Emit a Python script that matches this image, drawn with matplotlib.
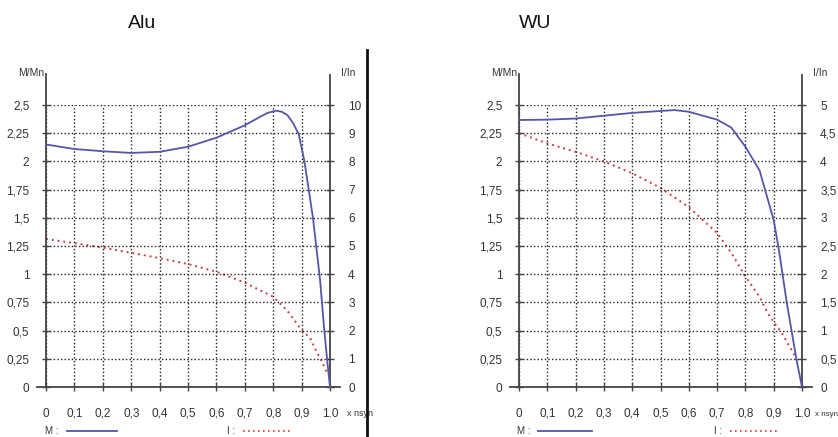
import matplotlib
matplotlib.use("Agg")
import matplotlib.pyplot as plt
from matplotlib.lines import Line2D

plt.rcParams['font.family'] = ['Liberation Sans', 'DejaVu Sans']

# ---------------- data ----------------
x_ticks = [0, 0.1, 0.2, 0.3, 0.4, 0.5, 0.6, 0.7, 0.8, 0.9, 1.0]
x_labels = ['0', '0,1', '0,2', '0,3', '0,4', '0,5', '0,6', '0,7', '0,8', '0,9', '1.0']
m_ticks = [0, 0.25, 0.5, 0.75, 1, 1.25, 1.5, 1.75, 2, 2.25, 2.5]
m_labels = ['0', '0,25', '0,5', '0,75', '1', '1,25', '1,5', '1,75', '2', '2,25', '2,5']

alu_i_ticks = [0, 1, 2, 3, 4, 5, 6, 7, 8, 9, 10]
alu_i_labels = ['0', '1', '2', '3', '4', '5', '6', '7', '8', '9', '10']
wu_i_ticks = [0, 0.5, 1, 1.5, 2, 2.5, 3, 3.5, 4, 4.5, 5]
wu_i_labels = ['0', '0,5', '1', '1,5', '2', '2,5', '3', '3,5', '4', '4,5', '5']

alu_m_x = [0, 0.1, 0.2, 0.3, 0.4, 0.5, 0.6, 0.7, 0.75, 0.78, 0.81, 0.83, 0.85, 0.87,
           0.89, 0.91, 0.94, 0.965, 0.98, 0.99, 1.0]
alu_m_y = [2.15, 2.11, 2.09, 2.075, 2.085, 2.13, 2.21, 2.32, 2.39, 2.43, 2.45, 2.44,
           2.41, 2.34, 2.24, 2.0, 1.5, 0.95, 0.5, 0.24, 0.0]
alu_i_x = [0, 0.1, 0.2, 0.3, 0.4, 0.5, 0.6, 0.7, 0.8, 0.85, 0.9, 0.93, 0.95, 0.97, 0.99]
alu_i_y = [5.25, 5.1, 4.94, 4.76, 4.57, 4.36, 4.09, 3.7, 3.2, 2.7, 2.02, 1.74, 1.3, 0.92, 0.5]

wu_m_x = [0, 0.1, 0.2, 0.3, 0.4, 0.5, 0.55, 0.6, 0.7, 0.75, 0.8, 0.85, 0.9, 0.92,
          0.946, 0.963, 0.98, 1.0]
wu_m_y = [2.367, 2.37, 2.38, 2.405, 2.43, 2.447, 2.455, 2.44, 2.37, 2.30, 2.13, 1.92,
          1.48, 1.19, 0.75, 0.5, 0.25, 0.0]
wu_i_x = [0, 0.1, 0.2, 0.3, 0.4, 0.5, 0.6, 0.7, 0.75, 0.8, 0.85, 0.88, 0.9, 0.93,
          0.95, 0.97, 0.98]
wu_i_y = [4.5, 4.32, 4.17, 4.0, 3.79, 3.53, 3.19, 2.73, 2.38, 1.96, 1.6, 1.3, 1.15,
          0.95, 0.77, 0.6, 0.48]

panels = [
    dict(title='Alu', x0=46, x1=330, tx=142, mx=alu_m_x, my=alu_m_y, ix=alu_i_x, iy=alu_i_y,
         iticks=alu_i_ticks, ilabels=alu_i_labels, imax=10,
         leg_m=(45, 67, 117), leg_i=(227, 243, 293), nsyn=(17, 6.5)),
    dict(title='WU', x0=519, x1=802, tx=535, mx=wu_m_x, my=wu_m_y, ix=wu_i_x, iy=wu_i_y,
         iticks=wu_i_ticks, ilabels=wu_i_labels, imax=5,
         leg_m=(517, 538, 592), leg_i=(714, 730, 780), nsyn=(13, 5.8)),
]

W, H = 838, 437
fig = plt.figure(figsize=(W / 100, H / 100), dpi=100)

M_COLOR = '#5656a8'
I_COLOR = '#d23c3c'
AX_COLOR = '#444444'
YTOP, YBOT = 105, 387

for p in panels:
    rect = [p['x0'] / W, 1 - YBOT / H, (p['x1'] - p['x0']) / W, (YBOT - YTOP) / H]
    ax = fig.add_axes(rect)
    ax.set_xlim(0, 1)
    ax.set_ylim(0, 2.5)
    for s in ax.spines.values():
        s.set_visible(False)
    ax.set_xticks(x_ticks)
    ax.set_xticklabels(x_labels)
    ax.set_yticks(m_ticks)
    ax.set_yticklabels(m_labels)
    ax.tick_params(axis='both', direction='inout', length=6, width=1, color=AX_COLOR,
                   labelsize=8.5, labelcolor='#333333')
    ax.tick_params(axis='y', pad=9)
    ax.tick_params(axis='x', pad=12)
    ax.grid(True, color='#222222', linestyle=(0, (1, 1.6)), linewidth=1.0)
    ax.set_axisbelow(True)

    # axis lines
    ax.plot([0, 0], [0, 1.11], transform=ax.transAxes, color=AX_COLOR, lw=1.3, clip_on=False, zorder=3)
    ax.plot([1, 1], [0, 1.105], transform=ax.transAxes, color=AX_COLOR, lw=1.3, clip_on=False, zorder=3)
    ax.plot([-0.032, 1.035], [0, 0], transform=ax.transAxes, color=AX_COLOR, lw=1.3, clip_on=False, zorder=3)

    ax2 = ax.twinx()
    ax2.set_ylim(0, p['imax'])
    for s in ax2.spines.values():
        s.set_visible(False)
    ax2.set_yticks(p['iticks'])
    ax2.set_yticklabels(p['ilabels'])
    ax2.tick_params(axis='y', direction='inout', length=6, width=1, color=AX_COLOR,
                    labelsize=8.5, labelcolor='#333333', pad=10)

    ax2.plot(p['ix'], p['iy'], color=I_COLOR, lw=1.4, linestyle=(0, (1, 2)), clip_on=False)
    ax.plot(p['mx'], p['my'], color=M_COLOR, lw=1.3, clip_on=False, zorder=5)
    ax.set_zorder(ax2.get_zorder() + 1)
    ax.patch.set_visible(False)

    ax.text(-0.005, 1.115, 'M/Mn', transform=ax.transAxes, ha='right', va='center',
            fontsize=7.5, color='#333333')
    ax.text(1.04, 1.115, 'I/In', transform=ax.transAxes, ha='left', va='center',
            fontsize=7.5, color='#333333')
    off, fs = p['nsyn']
    ax.annotate('x nsyn', xy=(1, 0), xycoords='axes fraction', xytext=(off, -27),
                textcoords='offset pixels', ha='left', va='center', fontsize=fs,
                color='#333333', annotation_clip=False)

    fig.text(p['tx'] / W, 1 - 23 / H, p['title'], ha='center', va='center',
             fontsize=14, color='#111111')

    # legend samples
    lx, l0, l1 = p['leg_m']
    fig.text(lx / W, 1 - 431 / H, 'M :', ha='left', va='center', fontsize=7, color='#333333')
    fig.add_artist(Line2D([l0 / W, l1 / W], [1 - 431 / H, 1 - 431 / H], color=M_COLOR, lw=1.3))
    lx, l0, l1 = p['leg_i']
    fig.text(lx / W, 1 - 431 / H, 'I :', ha='left', va='center', fontsize=7, color='#333333')
    fig.add_artist(Line2D([l0 / W, l1 / W], [1 - 431 / H, 1 - 431 / H], color=I_COLOR, lw=1.2,
                          linestyle=(0, (1, 2))))

# divider
fig.add_artist(Line2D([367 / W, 367 / W], [0, 1 - 50 / H], color='#111111', lw=2))

fig.savefig('out.png', dpi=100)
